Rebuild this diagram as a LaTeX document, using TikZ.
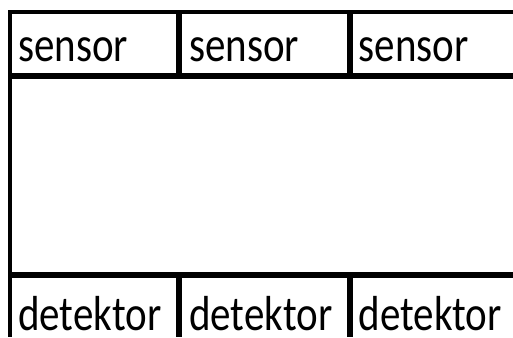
\documentclass[tikz,border=0pt]{standalone}
\usepackage{fontspec}
\setmainfont{Carlito}
\begin{document}
\begin{tikzpicture}[x=1bp,y=-1bp,
  rule/.style={line width=4bp},
  bar/.style={line width=6bp},
  cell/.style={anchor=base west,inner sep=0pt,
    font=\fontsize{41bp}{41bp}\selectfont}]
\useasboundingbox (0,0) rectangle (513,337);
% frame of the table
\coordinate (tl) at (8,12);
\coordinate (tr) at (513,12);
\coordinate (bl) at (10,337);
\draw[rule] (tl) -- (tr);
\draw[rule] (10,10) -- (bl);
\coordinate (s1) at (8,76);
\coordinate (s2) at (513,76);
\draw[bar] (s1) -- (s2);
\coordinate (d1) at (8,275);
\coordinate (d2) at (513,275);
\draw[bar] (d1) -- (d2);
% column separators
\foreach \x in {179,350} {
  \draw[bar] (\x,10) -- (\x,79);
  \draw[bar] (\x,272) -- (\x,337);
}
% labels
\node[cell] (sa) at (18,61.7) {\scalebox{1}[1.2]{sensor}};
\node[cell] (sb) at (189,61.7) {\scalebox{1}[1.2]{sensor}};
\node[cell] (sc) at (358.5,61.7) {\scalebox{1}[1.2]{sensor}};
\node[cell] (da) at (18,330) {\scalebox{1}[1.2]{detektor}};
\node[cell] (db) at (189,330) {\scalebox{1}[1.2]{detektor}};
\node[cell] (dc) at (358.5,330) {\scalebox{1}[1.2]{detektor}};
\end{tikzpicture}
\end{document}
